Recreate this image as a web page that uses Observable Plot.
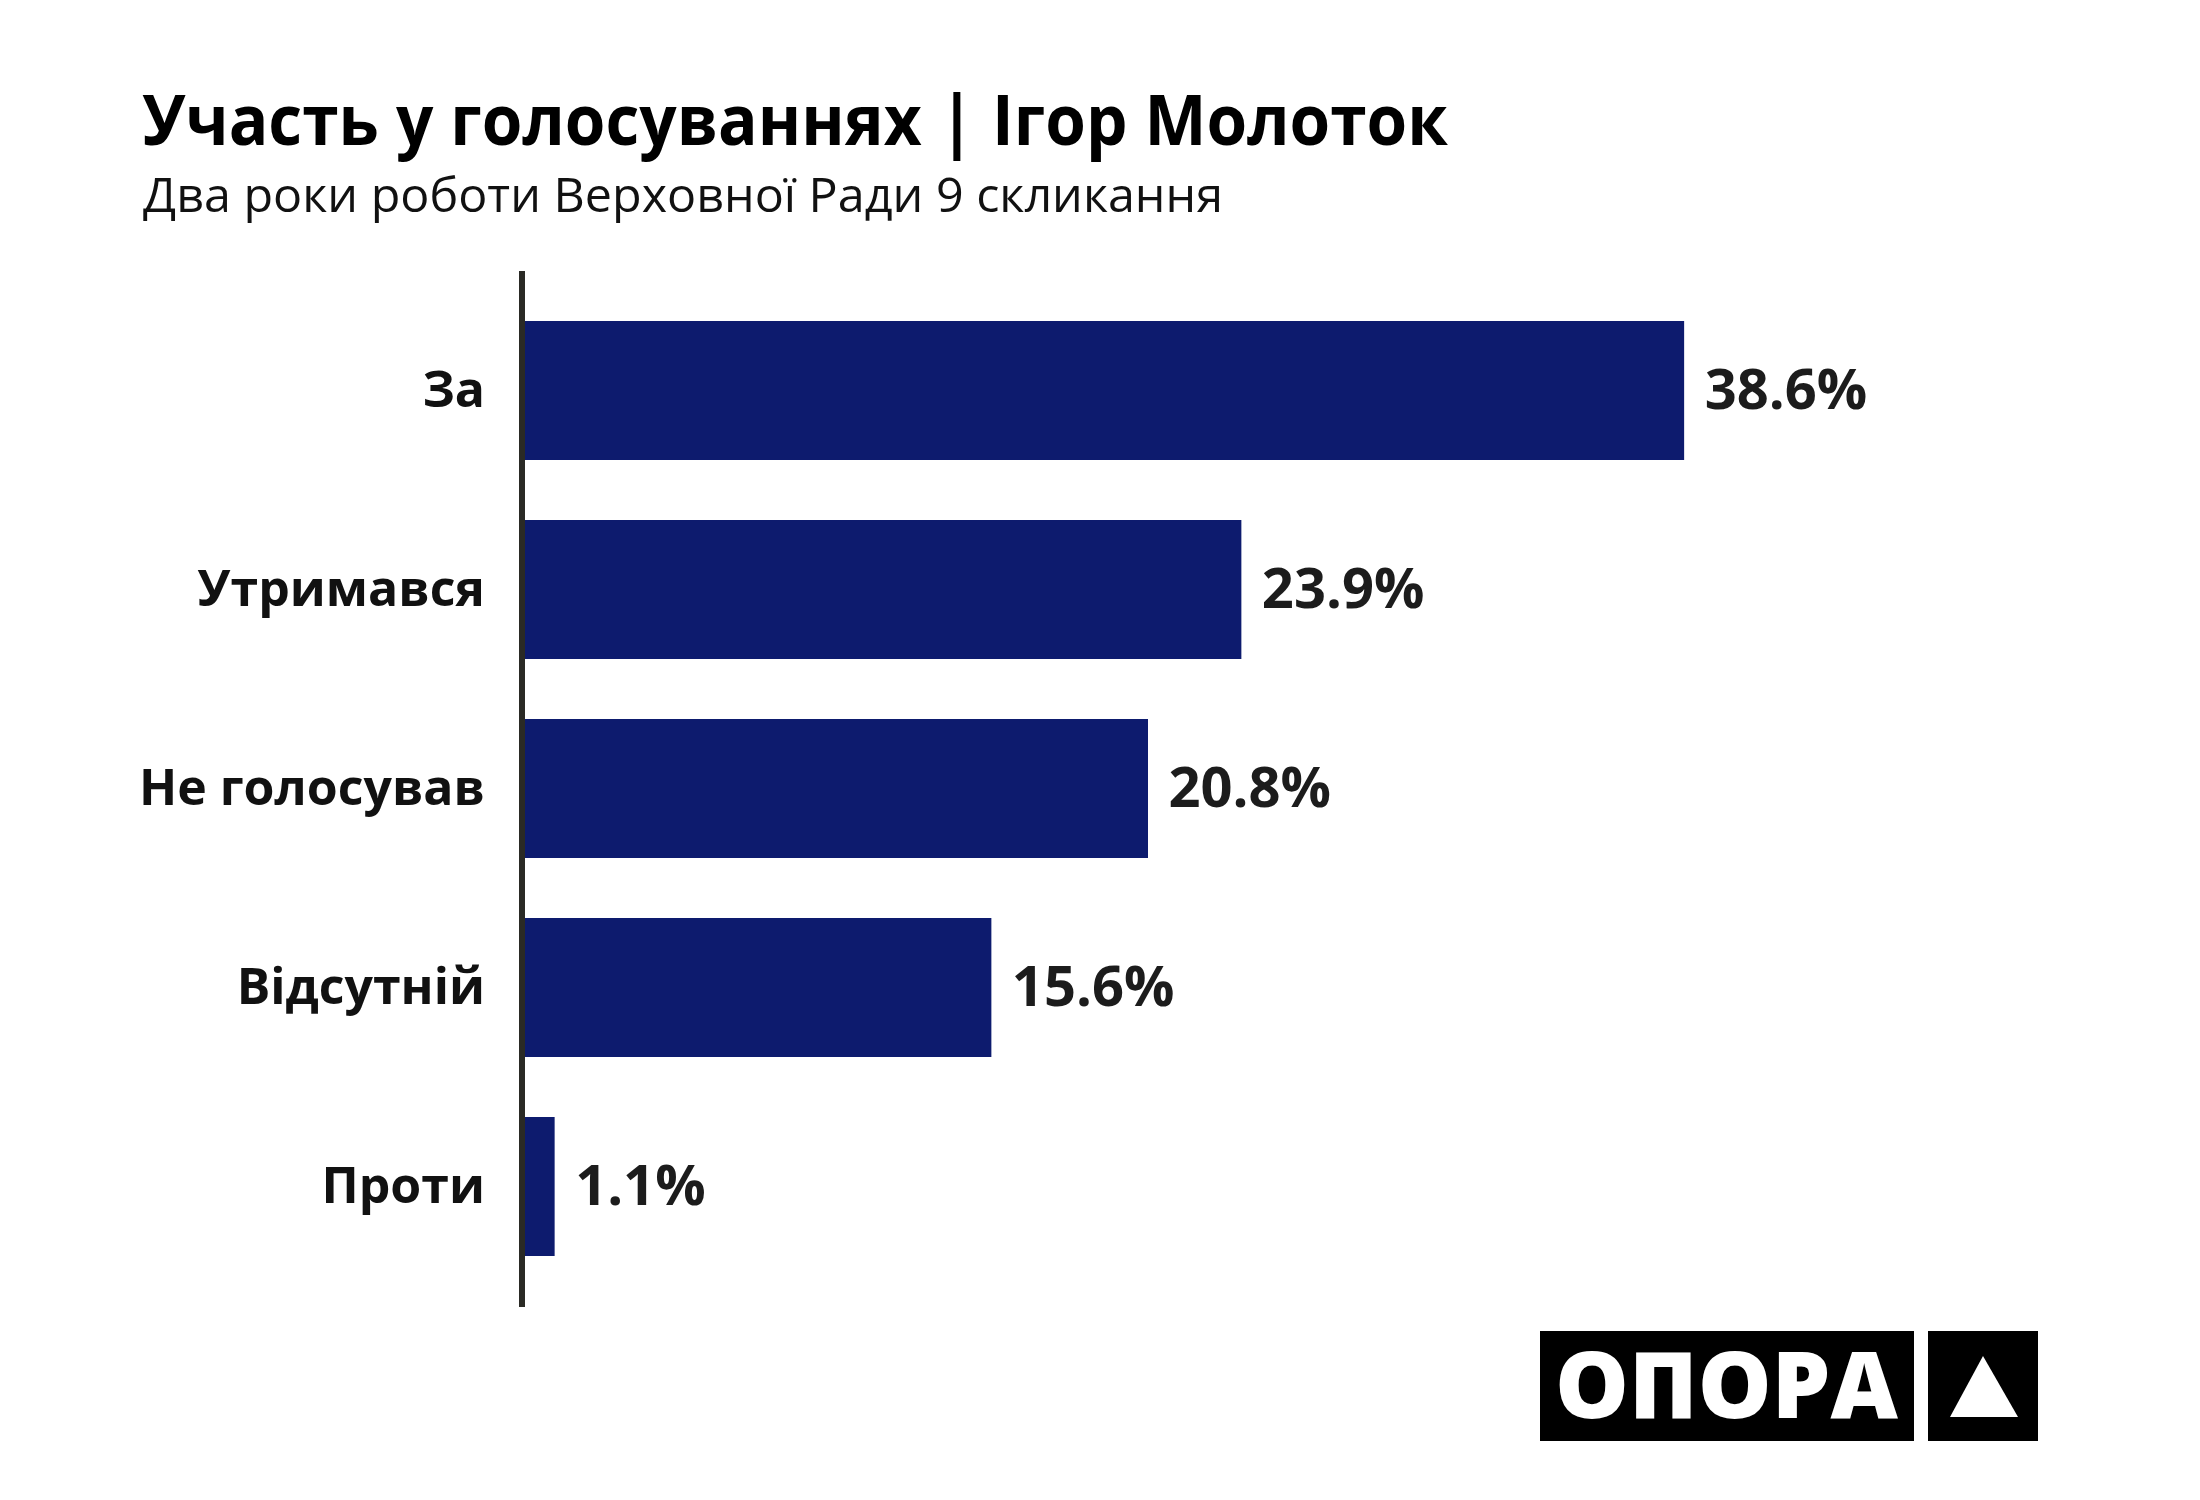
<!DOCTYPE html>
<html>
<head>
<meta charset="utf-8">
<script src="https://cdn.jsdelivr.net/npm/d3@7"></script>
<script src="https://cdn.jsdelivr.net/npm/@observablehq/plot@0.6"></script>
<style>
  html, body { margin: 0; padding: 0; background: #fff; }
  #wrap { position: relative; width: 2200px; height: 1500px; background: #fff; overflow: hidden; }
  #head, #logo { position: absolute; left: 0; top: 0; }
  #chart { position: absolute; left: 0; top: 240px; }
</style>
</head>
<body>
<div id="wrap">
  <svg id="head" width="2200" height="240" font-family="'Open Sans', sans-serif">
    <text x="142" y="145" font-size="69" font-weight="700" fill="#000" textLength="1306" lengthAdjust="spacingAndGlyphs">Участь у голосуваннях | Ігор Молоток</text>
    <text x="143" y="212" font-size="48" font-weight="400" fill="#111" textLength="1080" lengthAdjust="spacingAndGlyphs">Два роки роботи Верховної Ради 9 скликання</text>
  </svg>
  <div id="chart"></div>
  <svg id="logo" width="2200" height="1500" style="pointer-events:none" font-family="'Open Sans', sans-serif">
    <rect x="1540" y="1331" width="374" height="110" fill="#000"></rect>
    <text x="1555" y="1418" font-size="92" font-weight="800" fill="#fff" textLength="343" lengthAdjust="spacingAndGlyphs">ОПОРА</text>
    <rect x="1928" y="1331" width="110" height="110" fill="#000"></rect>
    <polygon points="1983,1356 2018,1417 1950,1417" fill="#fff"></polygon>
  </svg>
</div>
<script>
const categories = ["За", "Утримався", "Не голосував", "Відсутній", "Проти"];
const shares = [38.6, 23.9, 20.8, 15.6, 1.1];

const data = categories.map((c, i) => ({category: c, value: shares[i]}));

const chart = Plot.plot({
  width: 2200,
  height: 1120,
  marginTop: 31,
  marginBottom: 53,
  marginLeft: 521.5,
  marginRight: 172.5,
  style: {fontFamily: "'Open Sans', sans-serif", background: "transparent", overflow: "visible"},
  x: {domain: [0, 50], axis: null},
  y: {domain: categories, padding: 0.3, paddingOuter: 0.25, label: null},
  marks: [
    Plot.barX(data, {x: "value", y: "category", fill: "#0d1b6e"}),
    Plot.axisY({tickSize: 0, tickPadding: 37, fontSize: 50, fontWeight: 700, fill: "#111", label: null}),
    Plot.ruleX([0], {stroke: "#2a2a25", strokeWidth: 6}),
    Plot.text(data, {x: "value", y: "category", text: d => d.value.toFixed(1) + "%", dx: 20, textAnchor: "start", fontSize: 56, fontWeight: 700, fill: "#1c1c1c"})
  ]
});
document.getElementById("chart").appendChild(chart);
</script>
</body>
</html>
